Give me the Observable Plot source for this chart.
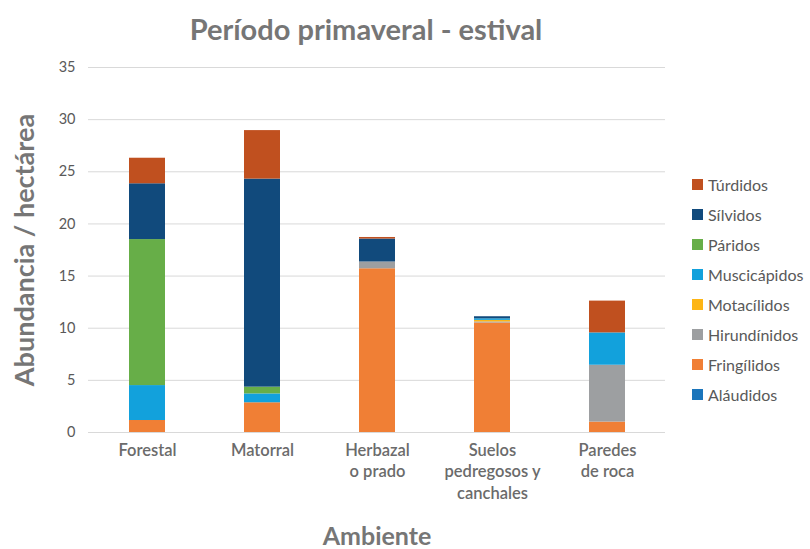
<!DOCTYPE html>
<html>
<head>
<meta charset="utf-8">
<script src="https://cdn.jsdelivr.net/npm/d3@7"></script>
<script src="https://cdn.jsdelivr.net/npm/@observablehq/plot@0.6"></script>
<style>
  html, body { margin: 0; padding: 0; background: #fff; }
  #wrap { position: relative; width: 810px; height: 549px; font-family: Lato, "Open Sans", sans-serif; }
  #title { position: absolute; left: 0; width: 732px; top: 10px; text-align: center; font-size: 29px; font-weight: 700; color: #767676; line-height: 38px; }
  #legend { position: absolute; left: 692px; top: 169px; }
  .item { display: flex; align-items: center; height: 30px; font-size: 16px; color: #595959; }
  .sw { width: 11px; height: 11px; margin-right: 5px; }
  svg { position: absolute; left: 0; top: 0; }
</style>
</head>
<body>
<div id="wrap">
  <div id="title">Período primaveral - estival</div>
  <div id="legend"></div>
</div>
<script>
const ambientes = ["Forestal", "Matorral", "Herbazal o prado", "Suelos pedregosos y canchales", "Paredes de roca"];
const ambienteLabels = ["Forestal", "Matorral", "Herbazal\no prado", "Suelos\npedregosos y\ncanchales", "Paredes\nde roca"];

// stacking order bottom -> top
const familias = ["Aláudidos", "Fringílidos", "Hirundínidos", "Motacílidos", "Muscicápidos", "Páridos", "Sílvidos", "Túrdidos"];
const colores = ["#1b75bb", "#f07f35", "#9d9fa1", "#fdb515", "#12a1dc", "#67ae48", "#114a7c", "#c0501f"];

const alaudidos    = [0, 0, 0, 0, 0];
const fringilidos  = [1.15, 2.85, 15.7, 10.5, 1.0];
const hirundinidos = [0, 0, 0.65, 0.1, 5.45];
const motacilidos  = [0, 0, 0, 0.15, 0];
const muscicapidos = [3.35, 0.85, 0, 0.15, 3.1];
const paridos      = [14.0, 0.65, 0, 0, 0];
const silvidos     = [5.35, 19.95, 2.2, 0.2, 0];
const turdidos     = [2.45, 4.65, 0.15, 0, 3.05];

const yTicks = [0, 5, 10, 15, 20, 25, 30, 35];

const series = [alaudidos, fringilidos, hirundinidos, motacilidos, muscicapidos, paridos, silvidos, turdidos];
const data = [];
familias.forEach((f, i) => ambientes.forEach((a, j) => data.push({familia: f, ambiente: a, valor: series[i][j]})));

const labelOf = new Map(ambientes.map((a, i) => [a, ambienteLabels[i]]));

const chart = Plot.plot({
  width: 810,
  height: 549,
  marginTop: 67,
  marginBottom: 117,
  marginLeft: 88,
  marginRight: 145,
  style: {fontFamily: "Lato, 'Open Sans', sans-serif", background: "transparent"},
  x: {domain: ambientes, paddingInner: 0.69, paddingOuter: 0.345, label: null},
  y: {domain: [0, 35], label: null},
  color: {domain: familias, range: colores},
  marks: [
    Plot.gridY(yTicks, {stroke: "#d9d9d9", strokeOpacity: 1, strokeWidth: 1}),
    Plot.barY(data, Plot.stackY({x: "ambiente", y: "valor", fill: "familia", order: familias})),
    Plot.axisY(yTicks, {tickSize: 0, tickPadding: 13, fontSize: 14.5, color: "#595959", label: null}),
    Plot.axisX({tickSize: 0, tickPadding: 8, fontSize: 16.5, fontWeight: 600, color: "#6b6b6b", lineHeight: 1.3, tickFormat: d => labelOf.get(d), label: null}),
    Plot.text(["Ambiente"], {frameAnchor: "bottom", dy: 104, lineAnchor: "middle", fontSize: 25, fontWeight: 700, fill: "#767676"}),
    Plot.text(["Abundancia / hectárea"], {frameAnchor: "left", dx: -63, rotate: -90, textAnchor: "middle", fontSize: 27, fontWeight: 700, fill: "#767676"})
  ]
});
const wrap = document.getElementById("wrap");
wrap.insertBefore(chart, wrap.firstChild);

const legend = document.getElementById("legend");
[...familias].reverse().forEach(f => {
  const i = familias.indexOf(f);
  const item = document.createElement("div");
  item.className = "item";
  const sw = document.createElement("div");
  sw.className = "sw";
  sw.style.background = colores[i];
  item.appendChild(sw);
  item.appendChild(document.createTextNode(f));
  legend.appendChild(item);
});
</script>
</body>
</html>
